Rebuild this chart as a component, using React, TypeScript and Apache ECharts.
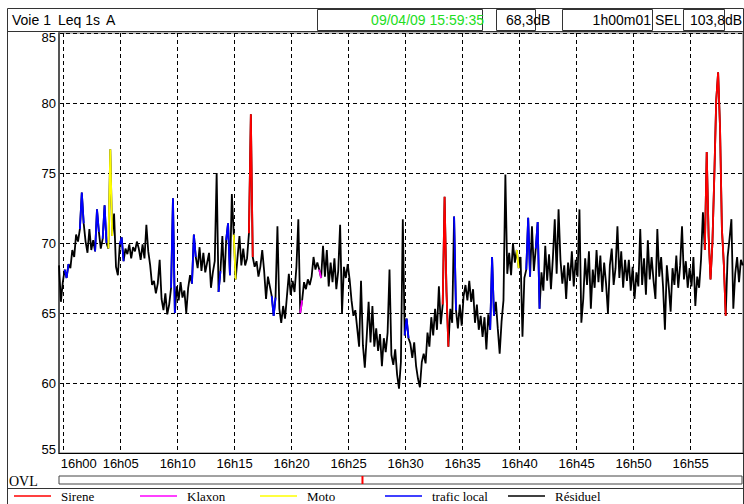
import { useEffect, useRef } from "react";
import * as echarts from "echarts";

// ---- header values ----
const VOIE = "Voie 1";
const INDICATOR = "Leq 1s";
const WEIGHTING = "A";
const START_DATE = "09/04/09 15:59:35";
const LEQ_GLOBAL = "68,3dB";
const DURATION = "1h00m01";
const SEL_VALUE = "103,8dB";

// ---- time base ----
const STEP_S = 10; // seconds between samples
const SECONDS_BEFORE_16H = 25; // 15:59:35 -> 16:00:00
const DURATION_S = 3601;

// ---- Leq (dB(A)), one value every STEP_S seconds from 15:59:35 ----
const LEQ = [
  68.4, 65.8, 67.2, 68.1, 67.5, 68.5,
  68.2, 69.5, 69.0, 70.6, 70.1, 71.0,
  73.6, 71.4, 70.1, 69.3, 71.0, 69.5,
  70.2, 69.4, 72.4, 70.8, 69.6, 70.3,
  72.7, 70.0, 69.6, 76.7, 70.5, 72.1,
  68.3, 67.7, 69.9, 70.4, 68.7, 69.6,
  69.2, 69.9, 68.9, 69.7, 69.4, 70.1,
  69.6, 68.8, 69.9, 68.9, 71.3, 69.4,
  68.4, 67.0, 67.3, 66.4, 67.1, 68.8,
  66.0, 65.2, 66.4, 64.9, 65.6, 66.8,
  73.2, 65.0, 66.9, 65.9, 67.2, 66.1,
  66.6, 65.0, 66.8, 67.7, 67.1, 70.6,
  69.0, 68.2, 69.7, 68.0, 69.3, 67.9,
  68.6, 69.3, 66.8, 67.9, 68.7, 75.0,
  66.5, 68.0, 70.5, 67.2, 70.2, 71.4,
  67.7, 73.5, 70.6, 67.4, 69.0, 70.5,
  68.4, 69.6, 68.4, 68.9, 70.7, 79.2,
  69.0, 68.3, 68.7, 67.6, 68.3, 69.5,
  68.0, 66.0, 67.6, 66.9, 66.2, 64.8,
  66.1, 71.2, 65.3, 64.3, 65.5, 64.6,
  66.2, 67.8, 66.3, 67.3, 66.5, 68.3,
  71.7, 65.0, 65.9, 67.2, 66.7, 67.4,
  67.0, 67.6, 69.0, 68.1, 68.6, 68.1,
  67.5, 69.8, 67.6, 69.5, 66.9, 68.6,
  67.2, 68.9, 66.7, 68.0, 71.3, 65.0,
  68.3, 67.5, 68.5, 67.4, 65.9, 64.8,
  65.2, 63.9, 62.6, 67.3, 62.7, 61.1,
  63.3, 65.8, 62.9, 65.5, 62.6, 63.9,
  62.3, 63.5, 61.2, 63.2, 62.2, 63.6,
  68.1, 62.0, 61.3, 62.4, 60.6, 59.6,
  61.5, 71.7, 63.4, 64.6, 63.2, 62.8,
  61.8, 62.9, 61.2, 60.3, 59.7, 61.5,
  62.1, 61.4, 63.6, 62.6, 64.7, 63.4,
  65.3, 63.8, 66.9, 64.2, 65.6, 73.3,
  66.5, 62.6, 65.3, 64.3, 71.9, 65.2,
  63.9, 65.6, 64.1, 66.2, 67.0, 65.9,
  67.3, 65.8, 66.7, 64.3, 65.6, 63.8,
  64.8, 63.3, 64.7, 62.4, 64.9, 63.8,
  69.0, 64.8, 65.8, 63.9, 62.1, 64.4,
  65.9, 74.9, 67.8, 69.3, 67.7, 70.0,
  68.6, 69.5, 68.2, 69.0, 63.3, 67.5,
  68.1, 71.8, 67.6, 71.2, 68.0, 69.6,
  71.5, 65.3, 67.9, 66.6, 69.8, 67.3,
  69.2, 66.7, 68.9, 71.7, 67.8, 72.4,
  68.8, 67.1, 68.4, 66.0, 68.6, 67.3,
  69.4, 66.9, 68.8, 67.6, 72.4, 64.3,
  66.0, 68.9, 67.0, 69.4, 65.3, 68.1,
  66.8, 69.5, 67.2, 69.1, 66.5, 68.6,
  67.1, 65.0, 68.4, 69.6, 67.0, 68.2,
  71.2, 67.5, 69.4, 66.8, 68.8, 67.3,
  68.8, 66.6, 68.3, 66.0, 67.9, 66.9,
  71.0, 67.0, 68.9, 66.3, 70.2, 67.4,
  69.0, 67.3, 66.0, 71.0, 67.6, 69.0,
  66.9, 63.8, 68.4, 66.9, 65.1, 68.2,
  67.0, 69.1, 66.8, 68.4, 71.2, 67.4,
  68.7, 66.8, 68.2, 66.9, 69.0, 65.5,
  67.6, 66.8, 68.8, 72.2, 69.5, 76.5,
  70.5, 67.4, 70.0, 74.8, 80.2, 82.2,
  78.3, 71.0, 68.5, 64.8, 69.0, 70.3,
  71.7, 65.3, 67.8, 69.0, 67.2, 68.8,
  68.4,
];

// ---- coded source periods [start s, end s] from 15:59:35 ----
const SIRENE = [[1000, 1020], [2020, 2050], [3400, 3510]];
const KLAXON = [[1270, 1280], [1370, 1380]];
const MOTO = [[260, 280], [920, 930], [2410, 2420]];
const TRAFIC_LOCAL = [
  [30, 50], [110, 130], [190, 210], [230, 250], [320, 340], [590, 610],
  [700, 720], [840, 850], [880, 900], [1120, 1140], [1820, 1840],
  [2080, 2090], [2270, 2290], [2460, 2480], [2510, 2530],
];
// ---- overload instants (s from 15:59:35) ----
const OVL = [1600];

// ---- axes ----
const X_TICK_MINUTES = [0, 5, 10, 15, 20, 25, 30, 35, 40, 45, 50, 55];
const Y_MIN = 55;
const Y_MAX = 85;
const Y_STEP = 5;

const LEGEND_ITEMS = [
  { name: "Sirene", color: "#ff0000", left: 14 },
  { name: "Klaxon", color: "#ff00ff", left: 140 },
  { name: "Moto", color: "#ffff00", left: 260 },
  { name: "trafic local", color: "#0000ff", left: 385 },
  { name: "Résiduel", color: "#000000", left: 508 },
];

const SANS = '"Liberation Sans", Arial, sans-serif';
const SERIF = '"Liberation Serif", "Times New Roman", serif';

function pick(periods: number[][]) {
  return LEQ.map((v, i) => {
    const t = i * STEP_S;
    const inside = periods.some(([a, b]) => t >= a && t <= b);
    return [t, inside ? v : null];
  });
}

function buildOption() {
  const tickValues = X_TICK_MINUTES.map((m) => SECONDS_BEFORE_16H + m * 60);
  const full = LEQ.map((v, i) => [i * STEP_S, v]);
  const lineSeries = (name: string, color: string, data: any[], z: number) => ({
    name,
    type: "line",
    data,
    xAxisIndex: 0,
    yAxisIndex: 0,
    symbol: "none",
    connectNulls: false,
    lineStyle: { color, width: 1.8 },
    itemStyle: { color },
    z,
  });
  const boxes = [
    [317, 165],
    [496, 39],
    [562, 90],
    [683, 41],
  ];
  return {
    animation: false,
    backgroundColor: "#ffffff",
    grid: [
      {
        left: 59,
        top: 33,
        width: 684,
        height: 420,
        show: true,
        borderColor: "#777",
        borderWidth: 1,
      },
      {
        left: 59,
        top: 476,
        width: 683,
        height: 8,
        show: true,
        borderColor: "#444",
        borderWidth: 1,
      },
    ],
    xAxis: [
      {
        type: "value",
        gridIndex: 0,
        min: 0,
        max: DURATION_S,
        axisLine: { show: true, onZero: false, lineStyle: { color: "#000", width: 1 } },
        axisTick: { show: false, customValues: tickValues },
        axisLabel: {
          customValues: tickValues,
          margin: 4,
          color: "#000",
          fontSize: 13,
          fontFamily: SANS,
          formatter: (v: number) => {
            const m = Math.round((v - SECONDS_BEFORE_16H) / 60);
            const txt = "16h" + String(m).padStart(2, "0");
            return m === 0 ? "{first|" + txt + "}" : txt;
          },
          rich: {
            first: { padding: [0, 0, 0, 30], fontSize: 13, fontFamily: SANS, color: "#000" },
          },
        },
        splitLine: {
          show: true,
          lineStyle: { color: "#000", width: 1, type: [4, 3] },
        },
      },
      {
        type: "value",
        gridIndex: 1,
        min: 0,
        max: DURATION_S,
        show: false,
      },
    ],
    yAxis: [
      {
        type: "value",
        gridIndex: 0,
        min: Y_MIN,
        max: Y_MAX,
        interval: Y_STEP,
        axisLine: { show: true, onZero: false, lineStyle: { color: "#555", width: 2 } },
        axisTick: { show: false },
        axisLabel: {
          margin: 3,
          color: "#000",
          fontSize: 13,
          fontFamily: SANS,
          formatter: (v: number) =>
            v === Y_MAX ? "{top|" + v + "}" : v === Y_MIN ? "{bot|" + v + "}" : String(v),
          rich: {
            top: { padding: [9, 0, 0, 0], fontSize: 13, fontFamily: SANS, color: "#000" },
            bot: { padding: [0, 0, 7, 0], fontSize: 13, fontFamily: SANS, color: "#000" },
          },
        },
        splitLine: {
          show: true,
          lineStyle: { color: "#000", width: 1, type: [4, 3] },
        },
      },
      { type: "value", gridIndex: 1, min: 0, max: 1, show: false },
    ],
    legend: LEGEND_ITEMS.map((it) => ({
      data: [it.name],
      left: it.left,
      top: 489,
      padding: 0,
      icon: "rect",
      itemWidth: 37,
      itemHeight: 1.5,
      selectedMode: false,
      textStyle: {
        fontFamily: SERIF,
        fontSize: 13,
        lineHeight: 14,
        color: "#000",
        padding: [0, 0, 0, 5],
      },
    })),
    series: [
      lineSeries("Résiduel", "#000000", full, 2),
      lineSeries("trafic local", "#0000ff", pick(TRAFIC_LOCAL), 3),
      lineSeries("Moto", "#ffff00", pick(MOTO), 4),
      lineSeries("Klaxon", "#ff00ff", pick(KLAXON), 5),
      lineSeries("Sirene", "#ff0000", pick(SIRENE), 6),
      ...OVL.map((t) => ({
        name: "OVL",
        type: "line",
        xAxisIndex: 1,
        yAxisIndex: 1,
        symbol: "none",
        data: [
          [t, 0],
          [t, 1],
        ],
        lineStyle: { color: "#ff0000", width: 2 },
      })),
    ],
    graphic: [
      {
        type: "rect",
        shape: { x: 7.5, y: 8.5, width: 736, height: 540 },
        style: { fill: "none", stroke: "#333", lineWidth: 1 },
        silent: true,
      },
      {
        type: "line",
        shape: { x1: 8, y1: 31.5, x2: 744, y2: 31.5 },
        style: { stroke: "#333", lineWidth: 1 },
        silent: true,
      },
      {
        type: "line",
        shape: { x1: 8, y1: 488.5, x2: 744, y2: 488.5 },
        style: { stroke: "#333", lineWidth: 1 },
        silent: true,
      },
      ...boxes.map(([x, w]) => ({
        type: "rect",
        shape: { x: x + 0.5, y: 9.5, width: w, height: 21 },
        style: { fill: "none", stroke: "#333", lineWidth: 1 },
        silent: true,
      })),
      ...[
        { text: VOIE, x: 12, align: "left", fill: "#000" },
        { text: INDICATOR, x: 58, align: "left", fill: "#000" },
        { text: WEIGHTING, x: 106, align: "left", fill: "#000" },
        { text: START_DATE, x: 484, align: "right", fill: "#22dd22" },
        { text: LEQ_GLOBAL, x: 506, align: "left", fill: "#000" },
        { text: DURATION, x: 651, align: "right", fill: "#000" },
        { text: "SEL", x: 655, align: "left", fill: "#000" },
        { text: SEL_VALUE, x: 690, align: "left", fill: "#000" },
      ].map((t) => ({
        type: "text",
        x: t.x,
        y: 20,
        silent: true,
        style: {
          text: t.text,
          fill: t.fill,
          font: "14px " + SANS,
          align: t.align,
          verticalAlign: "middle",
        },
      })),
      {
        type: "text",
        x: 9,
        y: 481,
        silent: true,
        style: {
          text: "OVL",
          fill: "#000",
          font: "14px " + SERIF,
          align: "left",
          verticalAlign: "middle",
        },
      },
    ],
  };
}

export default function App() {
  const ref = useRef<HTMLDivElement>(null);
  useEffect(() => {
    const chart = echarts.init(ref.current!, null, { renderer: "svg" });
    chart.setOption(buildOption() as any);
    return () => chart.dispose();
  }, []);
  return (
    <div
      ref={ref}
      style={{ position: "absolute", left: 0, top: 0, width: 744, height: 504, background: "#fff" }}
    />
  );
}
